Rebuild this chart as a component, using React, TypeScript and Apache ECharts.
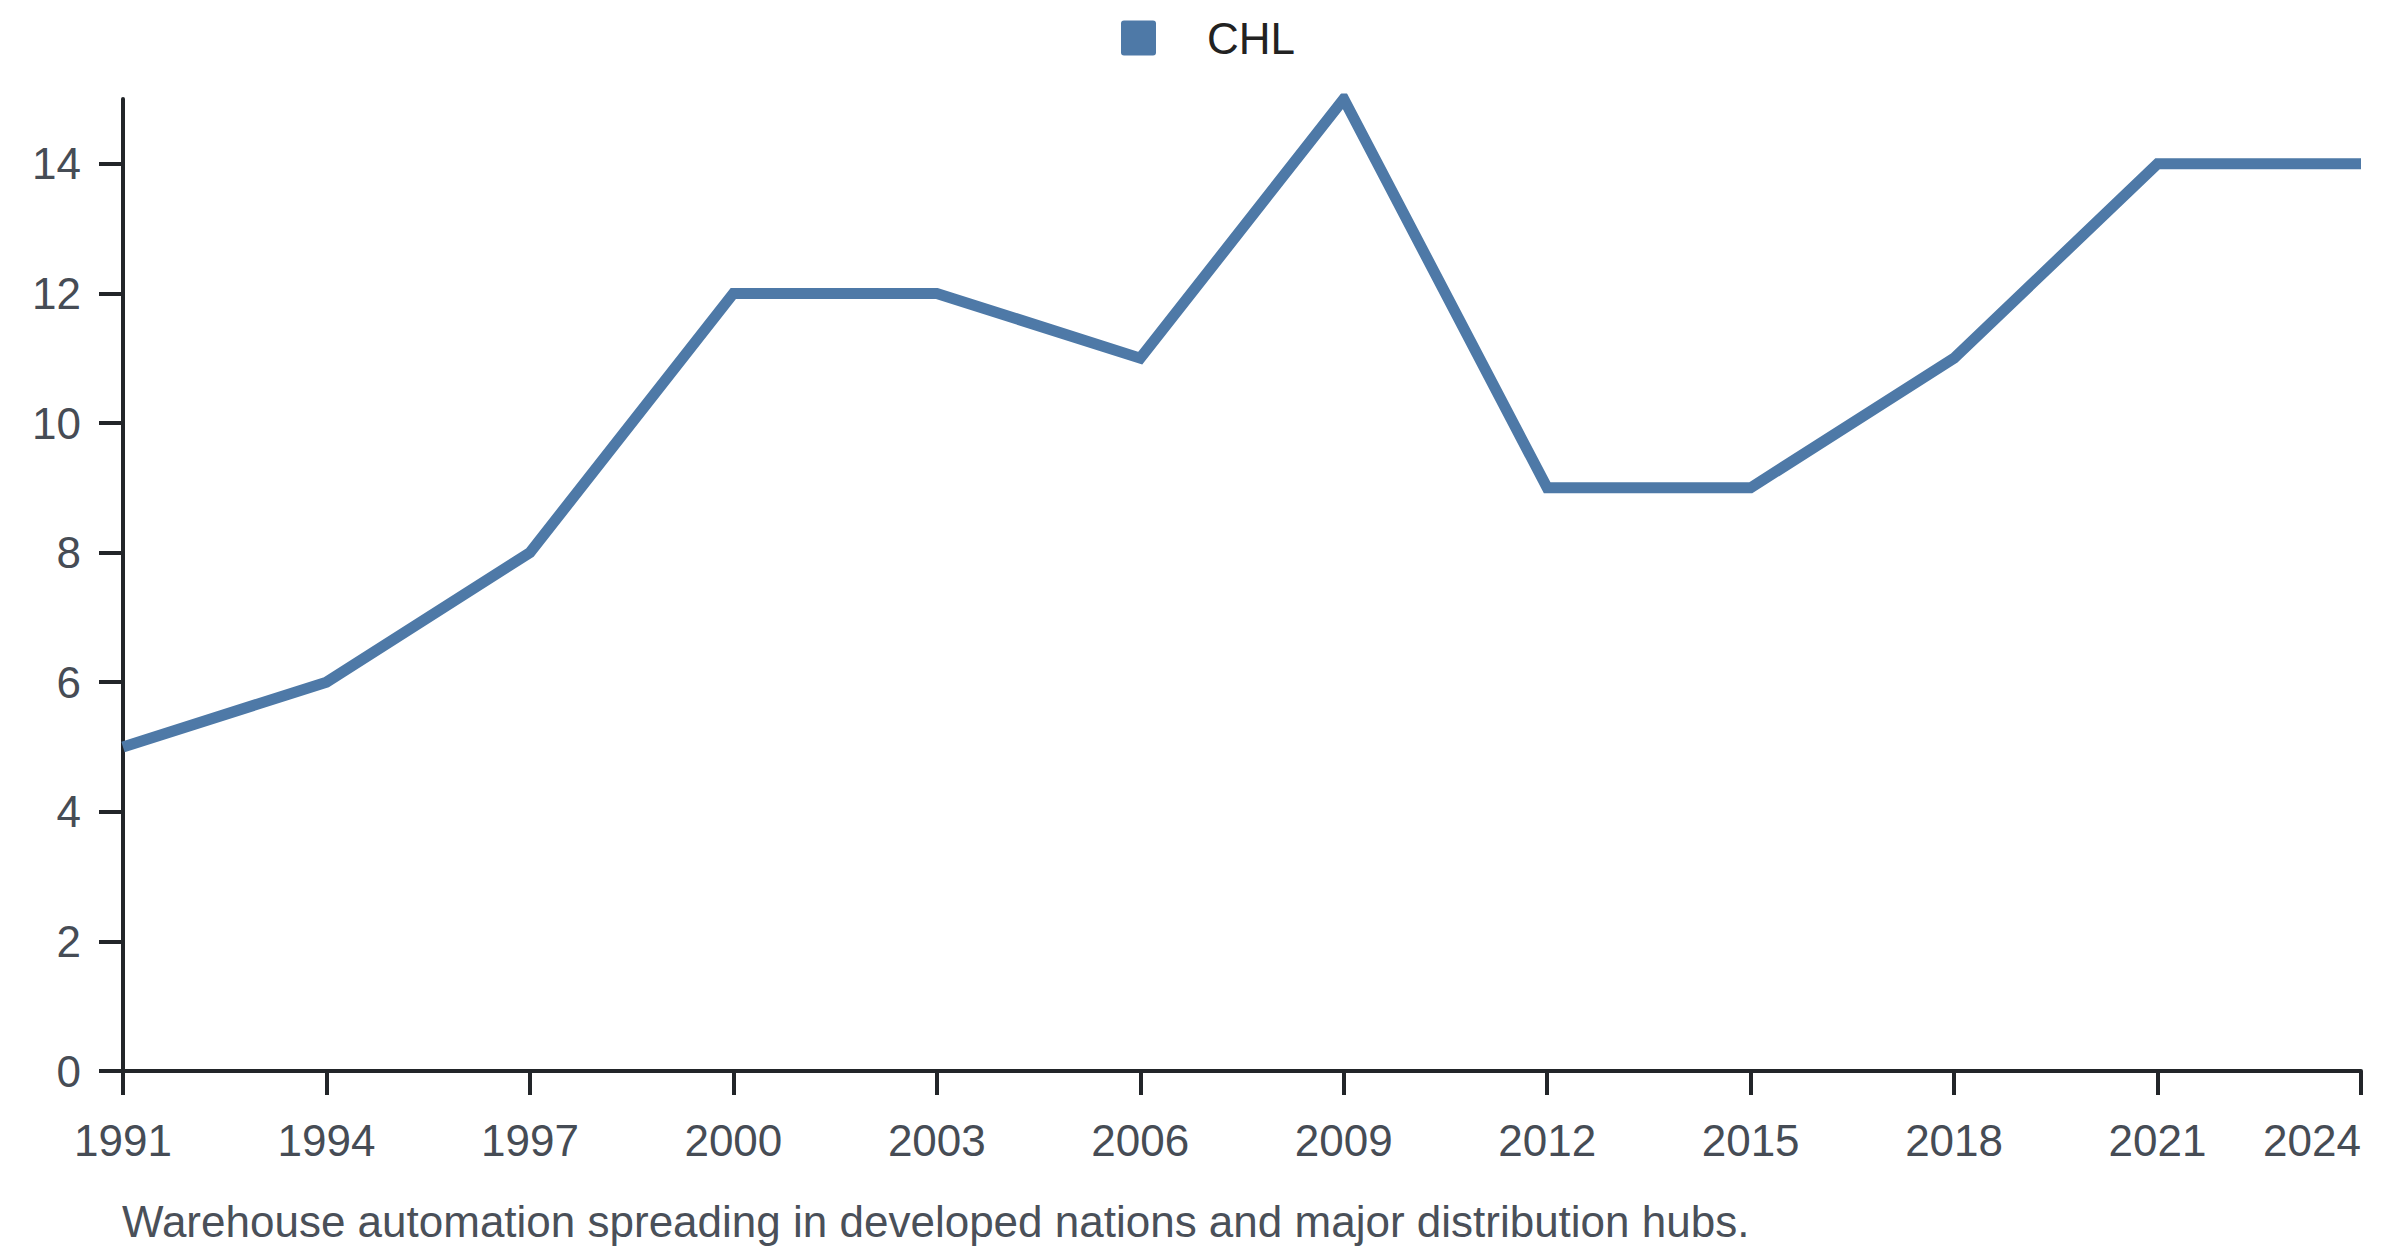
import React, { useEffect, useRef } from "react";
import * as echarts from "echarts";

const years = ["1991", "1994", "1997", "2000", "2003", "2006", "2009", "2012", "2015", "2018", "2021", "2024"];
const chlValues = [5, 6, 8, 12, 12, 11, 15, 9, 9, 11, 14, 14];
const yTicks = [0, 2, 4, 6, 8, 10, 12, 14];
const seriesName = "CHL";
const caption = "Warehouse automation spreading in developed nations and major distribution hubs.";

const FONT = "'Liberation Sans', Arial, Helvetica, sans-serif";
const AXIS = "#222529";
const LABEL = "#464c55";
const BLUE = "#4e79a7";
const ICON = "path://M3,0H32Q35,0 35,3V32Q35,35 32,35H3Q0,35 0,32V3Q0,0 3,0Z";

export default function App() {
  const ref = useRef<HTMLDivElement>(null);
  useEffect(() => {
    if (!ref.current) return;
    const chart = echarts.init(ref.current, null, { renderer: "svg" });
    chart.setOption({
      animation: false,
      backgroundColor: "#ffffff",
      textStyle: { fontFamily: FONT },
      legend: {
        data: [{ name: seriesName, icon: ICON }],
        left: 1121,
        top: 16,
        padding: 0,
        itemWidth: 35,
        itemHeight: 35,
        textStyle: { fontSize: 44, color: "#222222", fontFamily: FONT, padding: [0, 0, 0, 46] },
      },
      grid: { left: 123, right: 39, top: 99, bottom: 185, containLabel: false },
      xAxis: {
        type: "category",
        data: years,
        boundaryGap: false,
        axisLine: { lineStyle: { color: AXIS, width: 4 } },
        axisTick: { length: 24, lineStyle: { color: AXIS, width: 4 }, alignWithLabel: true },
        axisLabel: {
          fontSize: 44,
          color: LABEL,
          fontFamily: FONT,
          margin: 47,
          interval: 0,
          alignMaxLabel: "right",
        },
        splitLine: { show: false },
      },
      yAxis: {
        type: "value",
        min: 0,
        max: 15,
        interval: 2,
        axisLine: { show: true, lineStyle: { color: AXIS, width: 4 } },
        axisTick: { show: true, length: 24, lineStyle: { color: AXIS, width: 4 }, customValues: yTicks },
        axisLabel: { fontSize: 44, color: LABEL, fontFamily: FONT, margin: 42, customValues: yTicks },
        splitLine: { show: false },
      },
      series: [
        {
          name: seriesName,
          type: "line",
          data: chlValues,
          showSymbol: false,
          symbol: "none",
          lineStyle: { color: BLUE, width: 11, join: "miter" },
          itemStyle: { color: BLUE },
        },
      ],
      graphic: [
        {
          type: "text",
          left: 122,
          top: 1199,
          style: { text: caption, fontSize: 44, fill: "#4a5059", fontFamily: FONT },
        },
      ],
    });
    return () => chart.dispose();
  }, []);
  return <div ref={ref} style={{ width: 2400, height: 1256, margin: -8 }} />;
}
